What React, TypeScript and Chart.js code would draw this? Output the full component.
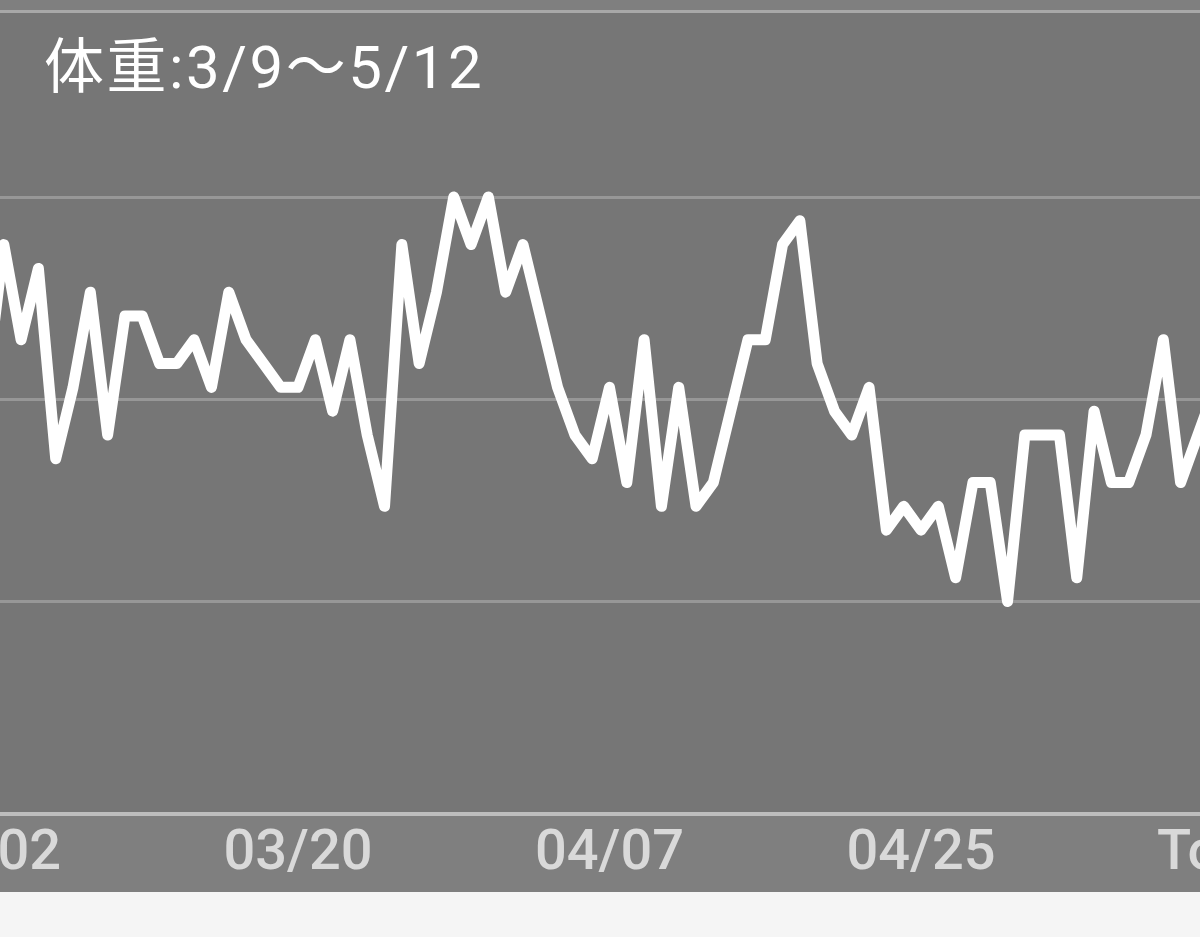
import React, { useEffect, useRef } from "react";
import { Chart, registerables } from "chart.js";

Chart.register(...registerables);

// Day index 0 = 03/02; one point per day up to 05/12 (index 71)
const dayIndex: number[] = Array.from({ length: 72 }, (_, i) => i);
const weights: number[] = [
  57.9, 58.5, 58.1, 58.4, 57.6, 57.9, 58.3, 57.7, 58.2, 58.2,
  58.0, 58.0, 58.1, 57.9, 58.3, 58.1, 58.0, 57.9, 57.9, 58.1,
  57.8, 58.1, 57.7, 57.4, 58.5, 58.0, 58.3, 58.7, 58.5, 58.7,
  58.3, 58.5, 58.2, 57.9, 57.7, 57.6, 57.9, 57.5, 58.1, 57.4,
  57.9, 57.4, 57.5, 57.8, 58.1, 58.1, 58.5, 58.6, 58.0, 57.8,
  57.7, 57.9, 57.3, 57.4, 57.3, 57.4, 57.1, 57.5, 57.5, 57.0,
  57.7, 57.7, 57.7, 57.1, 57.8, 57.5, 57.5, 57.7, 58.1, 57.5,
  57.7, 57.9,
];
const tickDays: number[] = [0, 18, 36, 54, 72];
const tickLabels: string[] = ["03/02", "03/20", "04/07", "04/25", "Today"];
const gridValues: number[] = [57.0, 57.85, 58.7];
const titleText = "体重:3/9〜5/12";

// visible window of the (scrolled) chart
const xMin = 0.7805;
const xMax = 70.121;
const yMin = 56.107;
const yMax = 59.4775;

const W = 1200;
const H = 892;

const backgroundPlugin = {
  id: "bgPaint",
  beforeDraw(chart: any) {
    const { ctx, chartArea } = chart;
    ctx.save();
    ctx.fillStyle = "#767676";
    ctx.fillRect(0, 0, W, H);
    ctx.fillStyle = "#7f7f7f";
    ctx.fillRect(0, 0, W, 10);
    ctx.fillStyle = "#a8a8a8";
    ctx.fillRect(0, 10, W, 3);
    ctx.fillStyle = "#7f7f7f";
    ctx.fillRect(0, chartArea.bottom, W, H - chartArea.bottom);
    ctx.restore();
  },
  afterDraw(chart: any) {
    const { ctx } = chart;
    ctx.save();
    ctx.fillStyle = "#ffffff";
    ctx.font = "400 60px Roboto, 'Noto Sans CJK JP', sans-serif";
    try {
      (ctx as any).letterSpacing = "2.5px";
    } catch (e) {}
    ctx.textBaseline = "alphabetic";
    ctx.textAlign = "left";
    ctx.fillText(titleText, 44, 88);
    ctx.restore();
  },
};

export default function App() {
  const canvasRef = useRef<HTMLCanvasElement | null>(null);

  useEffect(() => {
    const canvas = canvasRef.current;
    if (!canvas) return;
    const chart = new Chart(canvas, {
      type: "line",
      data: {
        datasets: [
          {
            data: dayIndex.map((d, i) => ({ x: d, y: weights[i] })),
            borderColor: "#ffffff",
            borderWidth: 11,
            borderJoinStyle: "round",
            borderCapStyle: "round",
            pointRadius: 0,
            tension: 0,
            fill: false,
          },
        ],
      },
      options: {
        responsive: false,
        animation: false,
        layout: { padding: { top: 12, left: 0, right: 0, bottom: 0 } },
        plugins: {
          legend: { display: false },
          tooltip: { enabled: false },
          title: { display: false },
        },
        scales: {
          x: {
            type: "linear",
            min: xMin,
            max: xMax,
            grid: { display: false, drawTicks: false },
            border: { display: true, color: "#bdbdbd", width: 4 },
            afterBuildTicks: (scale: any) => {
              scale.ticks = tickDays.map((v) => ({ value: v }));
            },
            afterFit: (scale: any) => {
              scale.height = 78;
              scale.paddingLeft = 0;
              scale.paddingRight = 0;
            },
            ticks: {
              autoSkip: false,
              maxRotation: 0,
              minRotation: 0,
              padding: 7,
              color: "#d9d9d9",
              font: { family: "Roboto", size: 56, weight: "500" },
              callback: (value: any) => {
                const i = tickDays.indexOf(Number(value));
                return i >= 0 ? tickLabels[i] : "";
              },
            },
          },
          y: {
            min: yMin,
            max: yMax,
            grid: { color: "#979797", lineWidth: 3, drawTicks: false },
            border: { display: false },
            ticks: { display: false },
            afterBuildTicks: (scale: any) => {
              scale.ticks = gridValues.map((v) => ({ value: v }));
            },
            afterFit: (scale: any) => {
              scale.width = 0;
              scale.paddingTop = 0;
              scale.paddingBottom = 0;
            },
          },
        },
      },
      plugins: [backgroundPlugin],
    });
    return () => chart.destroy();
  }, []);

  return (
    <div
      style={{
        position: "fixed",
        left: 0,
        top: 0,
        width: 1200,
        height: 937,
        background: "#f5f5f5",
        overflow: "hidden",
      }}
    >
      <canvas ref={canvasRef} width={W} height={H} style={{ display: "block" }} />
    </div>
  );
}
